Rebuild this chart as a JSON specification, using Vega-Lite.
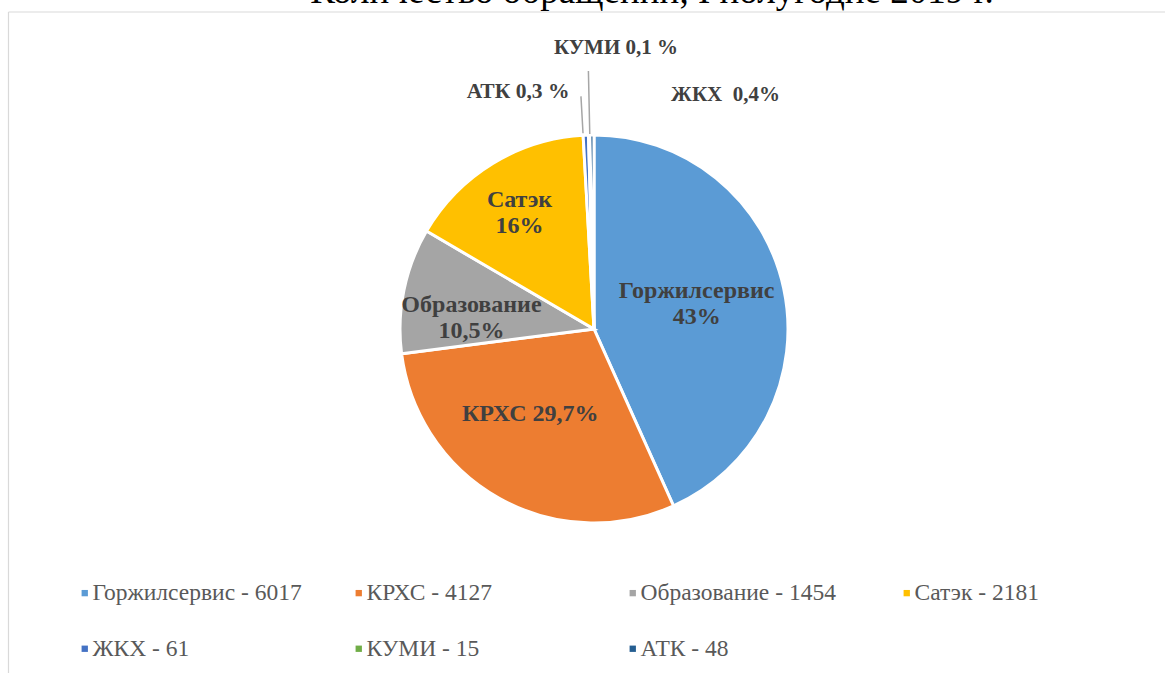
{
  "$schema": "https://vega.github.io/schema/vega-lite/v6.json",
  "width": 1142,
  "height": 658,
  "autosize": {"type": "none"},
  "padding": {"left": 23, "top": 0, "right": 0, "bottom": 15},
  "background": "white",
  "title": {
    "text": "Количество обращений, I полугодие 2019 г.",
    "font": "Liberation Serif, Times New Roman, DejaVu Serif, serif",
    "fontSize": 37,
    "fontWeight": "normal",
    "color": "black",
    "anchor": "middle",
    "frame": "group",
    "orient": "top",
    "offset": 0,
    "baseline": "alphabetic",
    "dy": 40,
    "dx": 58
  },
  "data": {
    "values": [
      {"name": "Горжилсервис", "legend": "Горжилсервис - 6017", "value": 6017, "n": 1},
      {"name": "КРХС", "legend": "КРХС - 4127", "value": 4127, "n": 2},
      {"name": "Образование", "legend": "Образование - 1454", "value": 1454, "n": 3},
      {"name": "Сатэк", "legend": "Сатэк - 2181", "value": 2181, "n": 4},
      {"name": "ЖКХ", "legend": "ЖКХ - 61", "value": 61, "n": 5},
      {"name": "КУМИ", "legend": "КУМИ - 15", "value": 15, "n": 6},
      {"name": "АТК", "legend": "АТК - 48", "value": 48, "n": 7}
    ]
  },
  "transform": [
    {"stack": "value", "groupby": [], "sort": [{"field": "n", "order": "ascending"}], "as": ["s0", "s1"]}
  ],
  "layer": [
    {
      "mark": {"type": "point", "opacity": 0},
      "encoding": {
        "x": {"datum": 0, "type": "quantitative", "scale": {"domain": [0, 1], "range": [-15, 1142]},
              "axis": {"orient": "top", "offset": -11.5, "labels": false, "ticks": false, "title": null, "grid": false, "domainColor": "#d9d9d9", "domainWidth": 1.2}},
        "y": {"datum": 0, "type": "quantitative", "scale": {"domain": [0, 1], "range": [690, 11.5]},
              "axis": {"orient": "left", "offset": 15, "labels": false, "ticks": false, "title": null, "grid": false, "domainColor": "#d9d9d9", "domainWidth": 1.2}}
      }
    },
    {
      "mark": {"type": "arc", "radius": 194, "stroke": "white", "strokeWidth": 3},
      "encoding": {
        "theta": {"field": "value", "type": "quantitative", "stack": true},
        "order": {"field": "n", "type": "quantitative"},
        "color": {
          "field": "legend",
          "type": "nominal",
          "scale": {
            "domain": ["Горжилсервис - 6017", "КРХС - 4127", "Образование - 1454", "Сатэк - 2181", "ЖКХ - 61", "КУМИ - 15", "АТК - 48"],
            "range": ["#5B9BD5", "#ED7D31", "#A5A5A5", "#FFC000", "#4472C4", "#70AD47", "#255E91"]
          },
          "legend": {
            "orient": "none",
            "legendX": 50,
            "legendY": 581,
            "direction": "horizontal",
            "columns": 4,
            "gridAlign": "all",
            "columnPadding": 45,
            "rowPadding": 31,
            "symbolType": "square",
            "symbolSize": 40,
            "symbolStrokeWidth": 0,
            "labelFont": "Liberation Serif, Times New Roman, DejaVu Serif, serif",
            "labelFontSize": 23.5,
            "labelColor": "#595959",
            "labelOffset": -4,
            "labelLimit": 400,
            "title": null,
            "padding": 0
          }
        }
      }
    },
    {
      "mark": {"type": "arc", "radius": 195, "radius2": 258, "fill": null, "stroke": "#a6a6a6", "strokeWidth": 1.5},
      "encoding": {
        "theta": {"field": "s1", "type": "quantitative", "stack": null},
        "theta2": {"field": "s1"},
        "strokeOpacity": {"condition": {"test": "datum.name === 'КУМИ'", "value": 1}, "value": 0}
      }
    },
    {
      "mark": {"type": "arc", "radius": 196, "radius2": 233, "fill": null, "stroke": "#a6a6a6", "strokeWidth": 1.5},
      "encoding": {
        "theta": {"field": "s0", "type": "quantitative", "stack": null},
        "theta2": {"field": "s0"},
        "strokeOpacity": {"condition": {"test": "datum.name === 'ЖКХ'", "value": 1}, "value": 0}
      }
    },
    {
      "mark": {"type": "text", "radius": 105, "font": "Liberation Serif, Times New Roman, DejaVu Serif, serif", "fontWeight": "bold", "fontSize": 24, "color": "#404040", "lineHeight": 26, "dy": -16},
      "encoding": {
        "theta": {"field": "value", "type": "quantitative", "stack": true},
        "order": {"field": "n", "type": "quantitative"},
        "text": {"condition": {"test": "datum.name === 'Горжилсервис'", "value": ["Горжилсервис", "43%"]}, "value": ""}
      }
    },
    {
      "mark": {"type": "text", "radius": 106, "font": "Liberation Serif, Times New Roman, DejaVu Serif, serif", "fontWeight": "bold", "fontSize": 24, "color": "#404040", "dx": -12, "dy": -7},
      "encoding": {
        "theta": {"field": "value", "type": "quantitative", "stack": true},
        "order": {"field": "n", "type": "quantitative"},
        "text": {"condition": {"test": "datum.name === 'КРХС'", "value": "КРХС 29,7%"}, "value": ""}
      }
    },
    {
      "mark": {"type": "text", "radius": 123, "font": "Liberation Serif, Times New Roman, DejaVu Serif, serif", "fontWeight": "bold", "fontSize": 24, "color": "#404040", "lineHeight": 26, "dx": -2, "dy": 1},
      "encoding": {
        "theta": {"field": "value", "type": "quantitative", "stack": true},
        "order": {"field": "n", "type": "quantitative"},
        "text": {"condition": {"test": "datum.name === 'Образование'", "value": ["Образование", "10,5%"]}, "value": ""}
      }
    },
    {
      "mark": {"type": "text", "radius": 137, "font": "Liberation Serif, Times New Roman, DejaVu Serif, serif", "fontWeight": "bold", "fontSize": 24, "color": "#404040", "lineHeight": 26, "dx": -3, "dy": -12},
      "encoding": {
        "theta": {"field": "value", "type": "quantitative", "stack": true},
        "order": {"field": "n", "type": "quantitative"},
        "text": {"condition": {"test": "datum.name === 'Сатэк'", "value": ["Сатэк", "16%"]}, "value": ""}
      }
    },
    {
      "mark": {"type": "text", "radius": 281, "font": "Liberation Serif, Times New Roman, DejaVu Serif, serif", "fontWeight": "bold", "fontSize": 21, "color": "#404040", "dx": 29},
      "encoding": {
        "theta": {"field": "value", "type": "quantitative", "stack": true},
        "order": {"field": "n", "type": "quantitative"},
        "text": {"condition": {"test": "datum.name === 'КУМИ'", "value": "КУМИ 0,1 %"}, "value": ""}
      }
    },
    {
      "mark": {"type": "text", "radius": 237, "font": "Liberation Serif, Times New Roman, DejaVu Serif, serif", "fontWeight": "bold", "fontSize": 21.5, "color": "#404040", "align": "right", "dx": -22},
      "encoding": {
        "theta": {"field": "value", "type": "quantitative", "stack": true},
        "order": {"field": "n", "type": "quantitative"},
        "text": {"condition": {"test": "datum.name === 'АТК'", "value": "АТК 0,3 %"}, "value": ""}
      }
    },
    {
      "mark": {"type": "text", "radius": 234, "font": "Liberation Serif, Times New Roman, DejaVu Serif, serif", "fontWeight": "bold", "fontSize": 21, "color": "#404040", "align": "left", "dx": 87},
      "encoding": {
        "theta": {"field": "value", "type": "quantitative", "stack": true},
        "order": {"field": "n", "type": "quantitative"},
        "text": {"condition": {"test": "datum.name === 'ЖКХ'", "value": "ЖКХ\u00a0 0,4%"}, "value": ""}
      }
    }
  ],
  "config": {
    "view": {"stroke": null}
  }
}
